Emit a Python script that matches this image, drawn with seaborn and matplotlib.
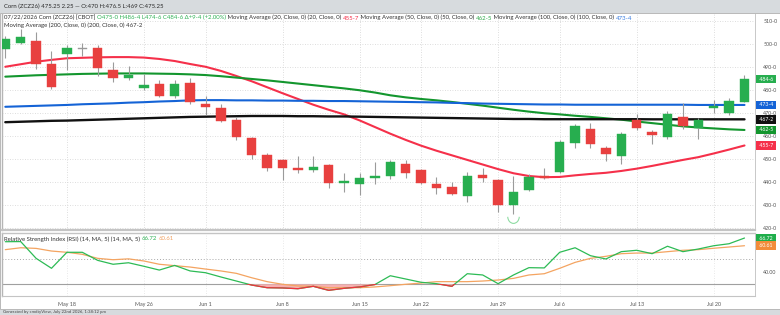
import numpy as np
import pandas as pd
import matplotlib
matplotlib.use("Agg")
import matplotlib.pyplot as plt
from matplotlib.patches import Rectangle, Arc
from matplotlib.transforms import blended_transform_factory
import seaborn as sns

# ---------------- data ----------------
dates = ["2026-05-12", "2026-05-13", "2026-05-14", "2026-05-15", "2026-05-18", "2026-05-19",
         "2026-05-20", "2026-05-21", "2026-05-22", "2026-05-26", "2026-05-27", "2026-05-28",
         "2026-05-29", "2026-06-01", "2026-06-02", "2026-06-03", "2026-06-04", "2026-06-05",
         "2026-06-08", "2026-06-09", "2026-06-10", "2026-06-11", "2026-06-12", "2026-06-15",
         "2026-06-16", "2026-06-17", "2026-06-18", "2026-06-22", "2026-06-23", "2026-06-24",
         "2026-06-25", "2026-06-26", "2026-06-29", "2026-06-30", "2026-07-01", "2026-07-02",
         "2026-07-06", "2026-07-07", "2026-07-08", "2026-07-09", "2026-07-10", "2026-07-13",
         "2026-07-14", "2026-07-15", "2026-07-16", "2026-07-17", "2026-07-20", "2026-07-21",
         "2026-07-22"]
opens = [497.8, 500.4, 501.3, 491.4, 495.5, 497.75, 498.1, 488.8, 485.1, 481.0, 482.7, 477.5,
         483.0, 473.8, 472.3, 466.8, 459.0, 451.7, 449.7, 446.3, 445.2, 447.4, 439.6, 439.3,
         441.6, 442.7, 447.7, 445.1, 439.3, 437.8, 433.8, 443.0, 441.0, 430.0, 436.4, 442.7,
         444.5, 457.0, 463.0, 454.6, 451.2, 466.8, 461.9, 459.6, 468.3, 463.3, 472.0, 470.0,
         475.0]
highs = [503.6, 506.5, 505.3, 497.0, 499.6, 500.4, 499.6, 492.0, 490.3, 487.1, 484.2, 484.2,
         485.1, 477.2, 473.8, 468.3, 459.6, 452.6, 450.0, 451.5, 451.2, 448.0, 443.9, 443.9,
         448.6, 449.4, 449.4, 445.7, 442.2, 440.1, 444.5, 446.3, 441.3, 442.5, 443.6, 446.0,
         458.4, 465.1, 465.7, 455.5, 461.9, 469.4, 462.5, 470.9, 474.3, 468.0, 475.8, 476.5,
         486.5]
lows = [494.0, 500.1, 489.0, 480.4, 488.8, 494.6, 486.0, 483.6, 484.2, 480.1, 477.0, 476.7,
        473.8, 469.1, 466.0, 458.4, 450.0, 444.8, 441.0, 443.9, 444.2, 437.5, 435.5, 434.3,
        439.3, 441.3, 441.9, 439.3, 434.9, 434.3, 431.4, 439.9, 427.1, 426.0, 436.0, 441.3,
        444.0, 454.9, 454.6, 449.1, 447.7, 462.5, 456.7, 458.7, 463.0, 458.7, 470.0, 469.0,
        474.75]
closes = [502.2, 503.0, 491.4, 481.3, 498.1, 497.75, 489.4, 485.1, 486.5, 482.2, 477.5, 482.5,
          474.6, 472.6, 466.5, 459.6, 451.7, 446.0, 446.0, 445.4, 446.7, 439.6, 440.4, 441.6,
          442.5, 448.8, 443.9, 439.6, 437.3, 434.9, 442.7, 441.6, 430.0, 435.8, 442.2, 441.6,
          457.5, 464.2, 456.4, 452.0, 461.0, 463.3, 460.4, 469.4, 464.2, 467.1, 473.2, 475.25,
          484.75]
ma20 = [490.1, 491.2, 492.3, 493.1, 493.8, 494.0, 494.2, 494.3, 494.3, 494.1, 493.5, 492.6,
        491.3, 490.1, 488.3, 486.1, 483.8, 481.2, 478.6, 476.1, 473.6, 471.4, 469.4, 466.8,
        463.9, 461.0, 458.3, 455.8, 453.6, 451.6, 449.6, 447.6, 445.6, 443.8, 442.6, 442.1,
        442.2, 442.9, 443.5, 444.0, 444.8, 445.8, 447.0, 448.3, 449.6, 450.8, 452.4, 454.1,
        455.875]
ma50 = [485.8, 486.1, 486.4, 486.6, 486.8, 487.0, 487.1, 487.2, 487.2, 487.2, 487.1, 487.0,
        486.8, 486.5, 486.0, 485.4, 484.8, 484.2, 483.5, 482.8, 482.1, 481.4, 480.7, 479.9,
        478.9, 477.7, 476.8, 476.1, 475.5, 474.8, 474.0, 473.2, 472.3, 471.4, 470.6, 469.9,
        469.4, 468.8, 468.3, 467.7, 467.1, 466.3, 465.6, 464.9, 464.2, 463.7, 463.3, 462.9,
        462.625]
ma100 = [472.7, 472.9, 473.1, 473.3, 473.5, 473.8, 474.0, 474.2, 474.5, 474.7, 475.0, 475.2,
         475.5, 475.6, 475.6, 475.5, 475.5, 475.4, 475.4, 475.3, 475.3, 475.2, 475.2, 475.1,
         475.0, 474.9, 474.8, 474.7, 474.6, 474.4, 474.3, 474.1, 474.0, 473.9, 473.8, 473.7,
         473.7, 473.6, 473.6, 473.6, 473.6, 473.6, 473.6, 473.6, 473.6, 473.5, 473.5, 473.5,
         473.5]
ma200 = [466.0, 466.2, 466.4, 466.6, 466.7, 466.9, 467.1, 467.3, 467.5, 467.7, 467.9, 468.1,
         468.3, 468.4, 468.5, 468.6, 468.7, 468.7, 468.7, 468.6, 468.6, 468.5, 468.5, 468.4,
         468.3, 468.2, 468.1, 468.0, 467.9, 467.8, 467.7, 467.6, 467.5, 467.4, 467.4, 467.3,
         467.3, 467.3, 467.3, 467.3, 467.3, 467.3, 467.25, 467.25, 467.25, 467.25, 467.25,
         467.25, 467.25]
rsi = [63.8, 63.9, 50.6, 42.7, 55.4, 55.4, 49.0, 45.9, 47.1, 44.3, 41.3, 45.0, 40.6, 39.2,
       35.8, 32.6, 29.4, 27.3, 27.1, 26.5, 28.4, 25.2, 26.8, 27.9, 29.8, 36.8, 34.2, 31.6,
       30.5, 28.4, 38.4, 37.4, 30.5, 37.4, 43.2, 43.0, 55.4, 59.0, 52.7, 50.1, 55.9, 57.0,
       54.3, 60.2, 55.9, 58.0, 60.6, 62.2, 66.72]
rsi_ma = [57.5, 59.0, 58.5, 56.4, 55.4, 53.8, 50.6, 49.5, 50.2, 48.5, 45.9, 44.8, 43.7, 42.1,
          40.6, 38.7, 35.2, 32.1, 30.0, 28.7, 28.4, 27.3, 27.3, 27.3, 27.9, 28.9, 30.0, 31.0,
          32.1, 32.1, 32.1, 32.6, 33.4, 34.7, 37.4, 38.4, 42.7, 47.4, 50.6, 52.2, 54.3, 54.8,
          54.8, 55.9, 57.0, 57.5, 58.6, 59.6, 60.61]
tick_dates = ["2026-05-18", "2026-05-26", "2026-06-01", "2026-06-08", "2026-06-15",
              "2026-06-22", "2026-06-29", "2026-07-06", "2026-07-13", "2026-07-20"]
tick_labels = ["May 18", "May 26", "Jun 1", "Jun 8", "Jun 15", "Jun 22", "Jun 29",
               "Jul 6", "Jul 13", "Jul 20"]
price_ticks = [420, 430, 440, 450, 460, 470, 480, 490, 500, 510]
rsi_ticks = [40]
ma_names = ["Moving Average (20, Close, 0) (20, Close, 0)",
            "Moving Average (50, Close, 0) (50, Close, 0)",
            "Moving Average (100, Close, 0) (100, Close, 0)",
            "Moving Average (200, Close, 0) (200, Close, 0)"]
ma_last = ["455-7", "462-5", "473-4", "467-2"]
last_price = "484-6"
rsi_last = ["66.72", "60.61"]

# ---------------- style ----------------
sns.set_theme(style="white")
plt.rcParams['font.family'] = ['Lato', 'DejaVu Sans']

C_UP = "#27ae4f"
C_DN = "#e8403f"
C_MA = ["#f5304a", "#13962e", "#1463d6", "#111111"]
C_TXT = "#333333"
C_GRID = "#d2d2d2"
C_RSI = "#2dbb55"
C_RSIMA = "#f4a461"

W, H = 780, 315
fig = plt.figure(figsize=(W / 100, H / 100), dpi=100)
fig.patch.set_facecolor("#d7dbde")
fig.add_artist(Rectangle((0, 1 - 309 / H), 1, (309 - 13) / H, transform=fig.transFigure,
                         facecolor="white", edgecolor="#b9b9b9", lw=0.7, zorder=0))

def fx(px):
    return px / W

def fy(py):
    return 1 - py / H

L_PX, R_PX = 2, 755
ax = fig.add_axes([fx(L_PX), fy(230), fx(R_PX - L_PX), (230 - 14) / H])
axr = fig.add_axes([fx(L_PX), fy(296), fx(R_PX - L_PX), (296 - 233) / H], sharex=ax)

n = len(dates)
idx = np.arange(n)
o = np.array(opens); c = np.array(closes); hi = np.array(highs); lo = np.array(lows)
x_step = 15.4
xlim = (-(5.3 - L_PX) / x_step, (R_PX - 5.3) / x_step)

# price panel
p_top = 500 + (44 - 14) / 2.3
p_bot = 500 - (230 - 44) / 2.3
ax.set_xlim(*xlim)
ax.set_ylim(p_bot, p_top)

tick_idx = [dates.index(d) for d in tick_dates]
for t in tick_idx:
    ax.axvline(t, color=C_GRID, lw=0.6, ls=(0, (1, 2)), zorder=0)
    axr.axvline(t, color="#e2e2e2", lw=0.6, ls=(0, (1, 2)), zorder=0)
for p in price_ticks:
    ax.axhline(p, color=C_GRID, lw=0.6, ls=(0, (1, 2)), zorder=0)

df_ma = pd.DataFrame({"i": idx, "ma20": ma20, "ma50": ma50, "ma100": ma100, "ma200": ma200})
for col, colr, lw in zip(["ma20", "ma50", "ma100", "ma200"], C_MA, [1.5, 1.5, 1.5, 1.7]):
    sns.lineplot(data=df_ma, x="i", y=col, ax=ax, color=colr, lw=lw, zorder=3)

body_lo = np.minimum(o, c)
body_h = np.maximum(np.abs(c - o), 0.35)
cols = [("#9a9a9a" if abs(cc - oo) < 0.1 else (C_UP if cc > oo else C_DN)) for oo, cc in zip(o, c)]
ax.vlines(idx, lo, hi, color="#9b9b9b", lw=0.8, zorder=4)
ax.bar(idx, body_h, bottom=body_lo, width=0.62, color=cols, edgecolor=cols, lw=0.3, zorder=5)

# signal marker below the Jun 30 bar
k = dates.index("2026-06-30")
ax.add_patch(Arc((k, lo[k] - 1.0), 0.75, 6.0, theta1=200, theta2=340, color="#8fdca3",
                 lw=0.8, zorder=5))

# axes styling
ax.yaxis.tick_right()
ax.set_yticks(price_ticks)
ax.set_yticklabels([f"{p}-0" for p in price_ticks])
ax.tick_params(axis="y", length=0, pad=6, labelsize=3.8, labelcolor="#555555")
ax.tick_params(axis="x", length=0, labelbottom=False)
ax.set_xlabel(""); ax.set_ylabel("")
ax.spines["top"].set_visible(False)
ax.spines["left"].set_color("#b5b5b5"); ax.spines["left"].set_linewidth(1.0)
ax.spines["right"].set_color("#c8c8c8"); ax.spines["right"].set_linewidth(0.7)
ax.spines["bottom"].set_color("#c4c4c4"); ax.spines["bottom"].set_linewidth(1.6)

def eighths(s):
    a, b = s.split("-")
    return int(a) + int(b) / 8

tr = blended_transform_factory(ax.transAxes, ax.transData)
box_specs = [(last_price, C_UP), (ma_last[2], C_MA[2]), (ma_last[3], C_MA[3]),
             (ma_last[1], C_MA[1]), (ma_last[0], C_MA[0])]
for lab, colr in box_specs:
    ax.text(1.004, eighths(lab), f" {lab} ", transform=tr, ha="left", va="center",
            fontsize=3.7, color="white", clip_on=False, zorder=10,
            bbox=dict(boxstyle="square,pad=0.35", fc=colr, ec="none"))

# header texts (multi-coloured pieces chained one after another)
def chain_text(x, y, pieces, size):
    prev = fig.text(x, y, pieces[0][0], color=pieces[0][1], fontsize=size, va="bottom", ha="left")
    for s, colr in pieces[1:]:
        prev = fig.add_artist(plt.Annotation(s, xy=(1, 0), xycoords=prev, va="bottom", ha="left",
                                             color=colr, fontsize=size))
    return prev

fs = 4.3
chain_text(fx(4), fy(9.4), [("Corn (ZCZ26) 475.25 2.25 \u2014 O:470 H:476.5 L:469 C:475.25", "#2a2a2a")], fs)
chain_text(fx(4), fy(20.5), [
    ("07/22/2026 Corn (ZCZ26) [CBOT] ", C_TXT),
    ("O475-0 H486-4 L474-6 C484-6 \u0394+9-4 (+2.00%)", "#2fb155"),
    (" " + ma_names[0] + " ", C_TXT), (ma_last[0], C_MA[0]),
    (" " + ma_names[1] + " ", C_TXT), (ma_last[1], "#2fa84a"),
    (" " + ma_names[2] + " ", C_TXT), (ma_last[2], "#3a7de0"),
], fs)
chain_text(fx(4), fy(28.5), [(ma_names[3] + " " + ma_last[3], C_TXT)], fs)

# ---------------- RSI panel ----------------
r_top = 40 + (271.7 - 233) / 1.26
r_bot = 40 - (296 - 271.7) / 1.26
axr.set_ylim(r_bot, r_top)
axr.axhline(50, color="#a8a8a8", lw=0.7, ls=(0, (1, 2)), zorder=1)
axr.axhline(30, color="#a0a0a0", lw=0.8, zorder=1)
rs = np.array(rsi)
axr.fill_between(idx, rs, 30, where=rs < 30, interpolate=True, color="#f7b0b0", lw=0, zorder=2)
df_r = pd.DataFrame({"i": idx, "rsi": rsi, "rsi_ma": rsi_ma})
sns.lineplot(data=df_r, x="i", y="rsi_ma", ax=axr, color=C_RSIMA, lw=0.9, zorder=3)
sns.lineplot(data=df_r, x="i", y="rsi", ax=axr, color=C_RSI, lw=0.9, zorder=4)
sns.lineplot(data=df_r, x="i", y="rsi", ax=axr, color="#f2323e", lw=0.9, zorder=5)
red_line = axr.lines[-1]
clip = Rectangle((xlim[0], r_bot), xlim[1] - xlim[0], 30 - r_bot, transform=axr.transData)
red_line.set_clip_path(clip)

axr.yaxis.tick_right()
axr.set_yticks(rsi_ticks)
axr.set_yticklabels([f"{v:.2f}" for v in rsi_ticks])
axr.tick_params(axis="y", length=0, pad=6, labelsize=3.8, labelcolor="#555555")
axr.set_xticks(tick_idx)
axr.set_xticklabels(tick_labels)
axr.tick_params(axis="x", length=0, pad=4.5, labelsize=3.9, labelcolor="#555555")
axr.set_xlabel(""); axr.set_ylabel("")
axr.spines["left"].set_color("#b5b5b5"); axr.spines["left"].set_linewidth(1.0)
axr.spines["right"].set_color("#c8c8c8"); axr.spines["right"].set_linewidth(0.7)
axr.spines["top"].set_color("#c4c4c4"); axr.spines["top"].set_linewidth(1.0)
axr.spines["bottom"].set_color("#c4c4c4"); axr.spines["bottom"].set_linewidth(0.8)

trr = blended_transform_factory(axr.transAxes, axr.transData)
for lab, colr in zip(rsi_last, ["#1fae4b", "#f28c3a"]):
    axr.text(1.004, float(lab), f" {lab} ", transform=trr, ha="left", va="center",
             fontsize=3.7, color="white", clip_on=False, zorder=10,
             bbox=dict(boxstyle="square,pad=0.35", fc=colr, ec="none"))

chain_text(fx(4), fy(241.5), [
    ("Relative Strength Index (RSI) (14, MA, 5) (14, MA, 5) ", C_TXT),
    (rsi_last[0], "#2fb155"), (" ", C_TXT), (rsi_last[1], "#f0a060"),
], fs)

fig.text(fx(3), fy(311.5), "Generated by cmdtyView, July 22nd 2026, 1:38:12 pm",
         fontsize=3.1, color="#444444", va="center", ha="left")

fig.savefig("out.png", dpi=100, facecolor=fig.get_facecolor())
